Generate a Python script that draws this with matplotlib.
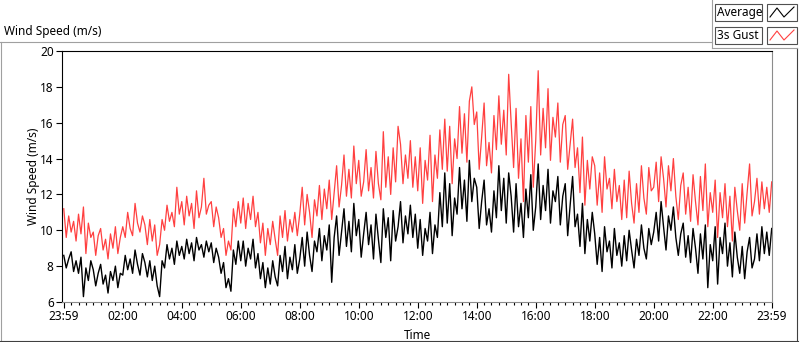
import numpy as np
import matplotlib.pyplot as plt
from matplotlib.lines import Line2D
from matplotlib.patches import Rectangle

plt.rcParams['font.family'] = ['Noto Sans', 'DejaVu Sans']

# one reading every 5 minutes, 23:59 -> 23:59
step_min = 5

avg_speed = [
    8.6, 7.9, 8.4, 8.8, 7.7, 8.3, 7.6, 8.5, 6.3, 7.9, 7.2, 8.3,
    7.8, 6.9, 7.6, 8.1, 7.0, 7.5, 6.5, 7.7, 7.2, 8.0, 6.8, 7.6,
    7.5, 8.6, 7.8, 8.4, 7.6, 8.9, 8.1, 7.5, 8.7, 8.2, 7.4, 8.3,
    7.2, 8.0, 6.9, 6.3, 8.3, 7.9, 9.2, 8.4, 9.0, 8.1, 9.4, 8.6,
    9.1, 8.4, 9.5, 8.7, 9.3, 8.3, 9.6, 8.9, 9.2, 8.5, 9.4, 8.8,
    9.3, 8.2, 9.0, 8.5, 7.6, 8.2, 6.8, 7.3, 6.6, 8.9, 8.1, 9.4,
    8.3, 9.4, 8.0, 9.0, 8.4, 9.5, 7.9, 8.7, 7.3, 8.2, 6.8, 7.9,
    7.0, 8.3, 7.4, 6.9, 8.6, 7.7, 9.1, 7.3, 8.5, 7.8, 9.2, 7.6,
    8.4, 9.6, 8.0, 9.9, 8.6, 7.7, 9.4, 8.8, 10.1, 8.3, 9.7, 8.9,
    10.3, 7.1, 9.6, 10.8, 8.6, 9.9, 11.2, 9.1, 10.5, 8.8, 11.5, 9.7,
    10.6, 8.5, 9.8, 11.0, 9.2, 10.3, 8.4, 10.9, 9.5, 8.2, 11.2, 9.6,
    10.7, 8.3, 11.1, 9.4, 10.2, 11.6, 9.3, 10.8, 9.8, 11.4, 9.6, 10.9,
    9.0, 10.6, 8.6, 10.1, 9.4, 11.0, 8.7, 10.3, 9.6, 12.1, 10.2, 13.2,
    10.4, 12.6, 9.7, 11.8, 10.9, 13.5, 11.2, 12.8, 10.5, 13.9, 11.6, 12.9,
    12.4, 10.1, 11.6, 12.8, 10.3, 11.2, 9.9, 12.2, 10.7, 13.6, 11.1, 12.9,
    10.4, 13.2, 11.9, 9.9, 12.6, 10.2, 11.5, 9.6, 12.3, 10.7, 13.1, 10.0,
    11.3, 13.7, 10.6, 12.5, 11.1, 13.4, 10.4, 12.2, 11.6, 13.0, 10.3, 11.9,
    12.6, 9.7, 11.4, 13.0, 10.2, 10.9, 9.1, 11.5, 8.7, 10.6, 9.4, 11.0,
    9.8, 8.1, 9.6, 7.7, 10.2, 8.8, 9.4, 7.9, 10.1, 8.6, 9.3, 8.0,
    9.7, 8.3, 10.0, 8.9, 7.9, 9.5, 8.6, 10.3, 9.0, 8.4, 10.1, 9.2,
    9.9, 11.0, 9.4, 11.6, 10.2, 8.9, 10.8, 10.0, 11.3, 9.6, 8.6, 9.8,
    10.4, 8.5, 9.7, 8.2, 10.1, 9.0, 7.6, 9.8, 8.4, 10.3, 6.8, 9.2,
    8.3, 10.2, 7.0, 9.6, 8.7, 10.4, 8.0, 9.3, 7.4, 9.9, 8.5, 7.6,
    9.1, 7.3, 8.8, 9.6, 7.9, 8.4, 9.8, 8.3, 10.2, 8.7, 9.9, 8.6,
    10.1,
]

gust_speed = [
    11.2, 9.6, 10.8, 9.9, 10.5, 9.4, 10.9, 9.8, 11.3, 8.7, 10.4, 9.6,
    9.9, 8.6, 9.7, 10.1, 8.9, 9.5, 8.4, 9.8, 9.0, 10.2, 8.7, 9.6,
    10.2, 9.6, 11.0, 10.1, 9.7, 11.5, 10.4, 9.9, 10.8, 10.3, 9.2, 10.6,
    9.4, 10.3, 8.6, 9.2, 10.6, 10.0, 11.4, 10.5, 11.0, 10.2, 12.4, 10.9,
    11.6, 10.3, 11.9, 10.8, 11.5, 10.1, 12.2, 10.7, 11.3, 12.9, 10.9, 11.4,
    11.6, 10.2, 11.3, 10.7, 9.6, 10.1, 8.6, 9.4, 8.9, 11.2, 10.2, 11.6,
    10.4, 11.8, 10.1, 11.5, 10.6, 11.9, 10.2, 11.0, 9.3, 10.4, 8.6, 10.1,
    9.2, 10.5, 9.5, 8.6, 10.8, 9.6, 11.1, 9.4, 10.6, 9.9, 11.0, 9.7,
    10.9, 12.4, 10.3, 12.0, 11.0, 9.6, 11.7, 10.8, 12.5, 10.6, 12.3, 11.2,
    12.8, 10.6, 12.1, 13.6, 11.3, 12.5, 14.2, 11.9, 13.4, 11.8, 14.7, 12.6,
    13.9, 11.9, 12.7, 14.5, 12.2, 13.5, 11.8, 14.4, 12.6, 11.7, 15.5, 12.4,
    14.1, 12.0, 14.6, 12.7, 15.8, 14.8, 12.6, 14.2, 12.9, 15.0, 12.4, 14.1,
    12.2, 14.6, 11.5, 13.9, 12.8, 15.3, 11.6, 14.2, 12.9, 15.6, 13.4, 16.2,
    13.3, 15.8, 12.6, 15.1, 14.0, 16.9, 14.3, 16.5, 13.8, 17.2, 18.0, 15.9,
    16.6, 13.4, 15.2, 17.1, 13.6, 14.9, 13.2, 16.4, 14.5, 17.5, 14.8, 16.7,
    14.2, 18.7, 16.0, 13.5, 16.8, 12.9, 15.1, 11.6, 16.4, 13.8, 16.9, 12.4,
    15.0, 18.9, 14.2, 16.8, 14.6, 17.9, 13.9, 16.3, 15.2, 17.1, 13.8, 15.9,
    16.4, 13.4, 14.8, 16.2, 13.5, 14.6, 12.1, 15.2, 11.4, 13.9, 12.3, 14.1,
    13.6, 11.4, 13.2, 11.0, 14.1, 12.3, 12.9, 11.2, 13.4, 11.6, 12.5, 10.6,
    12.8, 10.7, 13.3, 11.5, 10.4, 12.6, 11.0, 13.6, 11.8, 10.9, 13.5, 12.2,
    12.4, 13.8, 11.6, 14.1, 12.9, 11.3, 13.6, 12.2, 14.0, 11.9, 10.6, 12.5,
    13.2, 10.9, 12.4, 10.5, 13.1, 11.6, 10.3, 13.0, 11.1, 13.7, 10.2, 12.1,
    11.0, 12.8, 9.6, 12.1, 10.7, 12.6, 10.2, 11.9, 9.4, 12.4, 11.1, 10.0,
    12.6, 10.4, 12.1, 13.7, 10.8, 11.6, 12.9, 10.9, 12.7, 11.2, 12.4, 11.0,
    12.7,
]

hour_ticks = list(range(0, 25, 2))
hour_labels = ['23:59', '02:00', '04:00', '06:00', '08:00', '10:00', '12:00',
               '14:00', '16:00', '18:00', '20:00', '22:00', '23:59']

hours = np.arange(len(avg_speed)) * step_min / 60

W, H = 800, 342
fig = plt.figure(figsize=(W / 100, H / 100), dpi=100)


def fx(x):
    return x / W


def fy(y):
    return 1 - y / H


ax = fig.add_axes([fx(62), fy(302), (772 - 62) / W, (302 - 51) / H])
ax.plot(hours, avg_speed, color='black', lw=1.0)
ax.plot(hours, gust_speed, color='#ff4040', lw=0.9)
ax.set_xlim(-0.06, 24.01)
ax.set_ylim(6, 20)

ax.set_yticks(range(6, 21, 2))
ax.set_xticks(hour_ticks)
ax.set_xticklabels(hour_labels)
ax.set_xticks(np.arange(0, 24.01, 0.25), minor=True)
ax.tick_params(axis='both', which='major', direction='out', length=4,
               width=0.8, labelsize=8.5, pad=2, colors='black')
ax.tick_params(axis='x', which='minor', direction='out', length=2.5, width=0.8)

for side in ['left', 'top']:
    ax.spines[side].set_color('black')
for side in ['right', 'bottom']:
    ax.spines[side].set_color('#8c8c8c')
for sp in ax.spines.values():
    sp.set_linewidth(0.8)

ax.set_ylabel('Wind Speed (m/s)', fontsize=8.5, labelpad=0)
ax.set_xlabel('Time', fontsize=8.5, labelpad=4)

# title above the panel
fig.text(fx(4), fy(31), 'Wind Speed (m/s)', fontsize=8.5, va='center', ha='left')

# outer panel frame
def seg(x0, y0, x1, y1, color):
    fig.add_artist(Line2D([fx(x0), fx(x1)], [fy(y0), fy(y1)], color=color, lw=0.8))


seg(0, 42, 712, 42, '#a0a0a0')
seg(0.5, 42, 0.5, 341, '#a0a0a0')
seg(0, 341, 798, 341, '#404040')
seg(797, 48, 797, 341, '#404040')
seg(712, 0, 712, 48, '#a0a0a0')
seg(712, 48, 797, 48, '#a0a0a0')

# legend
for row, (name, col) in enumerate([('Average', 'black'), ('3s Gust', '#ff4040')]):
    top = 4 + row * 23
    fig.add_artist(Rectangle((fx(715), fy(top + 17)), 47 / W, 17 / H,
                             transform=fig.transFigure, fill=False,
                             edgecolor='#505050', lw=0.8))
    fig.text(fx(717), fy(top + 8.5), name, fontsize=8.5, va='center', ha='left')
    fig.add_artist(Rectangle((fx(767), fy(top + 17)), 30 / W, 17 / H,
                             transform=fig.transFigure, fill=False,
                             edgecolor='#505050', lw=0.8))
    zx = [770, 777, 784, 794]
    zy = [top + 13, top + 4, top + 13, top + 3]
    fig.add_artist(Line2D([fx(v) for v in zx], [fy(v) for v in zy],
                          color=col, lw=0.8))

fig.savefig('out.png', dpi=100)
